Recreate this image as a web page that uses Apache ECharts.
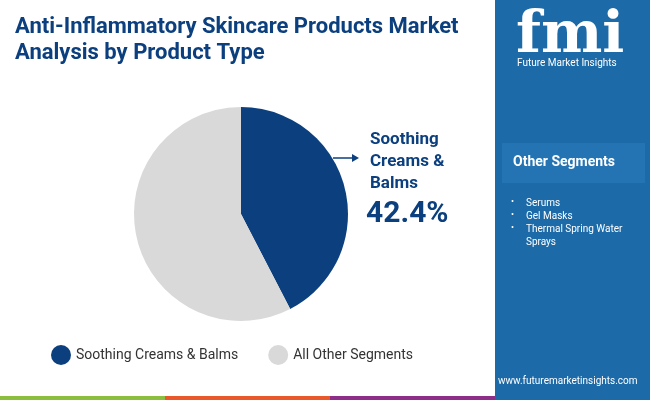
<!DOCTYPE html>
<html>
<head>
<meta charset="utf-8">
<script src="https://cdn.jsdelivr.net/npm/echarts@6/dist/echarts.min.js"></script>
<style>
  html, body { margin: 0; padding: 0; background: #fff; }
  #chart { width: 650px; height: 400px; }
</style>
</head>
<body>
<div id="chart"></div>
<script>
// data
var segments = ['Soothing Creams & Balms', 'All Other Segments'];
var shares = [42.4, 57.6];
var colors = ['#0b3f7e', '#d9d9d9'];
var otherSegments = ['Serums', 'Gel Masks', 'Thermal Spring Water', 'Sprays'];

(function () {
    let myechart = echarts.init(document.getElementById('chart'));
    var font = 'Roboto, "Open Sans", sans-serif';
    var bullets = [];
    var y0 = 198;
    otherSegments.forEach(function (s, i) {
        if (i !== 3) {
            bullets.push({ type: 'text', left: 511, top: y0 + i * 13 - 1,
                style: { text: '•', fill: '#fff', font: '9px ' + font } });
        }
        bullets.push({ type: 'text', left: 526, top: y0 + i * 13,
            style: { text: s, fill: '#fff', font: '10px ' + font } });
    });
    var option = {
        animation: false,
        color: colors,
        graphic: [
            { type: 'rect', shape: { x: 495, y: 0, width: 155, height: 400 }, style: { fill: '#1c6aa8' } },
            { type: 'rect', shape: { x: 502, y: 143, width: 143, height: 40 }, style: { fill: '#2474b3' } },
            { type: 'text', left: 513, top: 155, style: { text: 'Other Segments', fill: '#fff', font: 'bold 14px ' + font } },
            { type: 'text', left: 516, top: 8, style: { text: 'fmi', fill: '#fff', font: 'bold 58px "DejaVu Serif", serif' } },
            { type: 'text', left: 517, top: 58, style: { text: 'Future Market Insights', fill: '#fff', font: '10px ' + font } },
            { type: 'text', left: 498, top: 376, style: { text: 'www.futuremarketinsights.com', fill: '#fff', font: '10px ' + font } },
            { type: 'rect', shape: { x: 0, y: 396, width: 165, height: 4 }, style: { fill: '#8bbd3f' } },
            { type: 'rect', shape: { x: 165, y: 396, width: 165, height: 4 }, style: { fill: '#e8582a' } },
            { type: 'rect', shape: { x: 330, y: 396, width: 165, height: 4 }, style: { fill: '#8e2e88' } },
            { type: 'text', left: 15, top: 14, style: {
                text: 'Anti-Inflammatory Skincare Products Market\nAnalysis by Product Type',
                fill: '#0b3f7e', font: 'bold 22px ' + font, lineHeight: 26 } },
            { type: 'text', left: 370, top: 129, style: {
                text: 'Soothing\nCreams &\nBalms', fill: '#0b3f7e', font: 'bold 17px ' + font, lineHeight: 22 } },
            { type: 'text', left: 366, top: 199, style: { text: shares[0] + '%', fill: '#0b3f7e', font: 'bold 30px ' + font } },
            { type: 'line', shape: { x1: 333, y1: 158, x2: 354, y2: 158 }, style: { stroke: '#0b3f7e', lineWidth: 1.5 } },
            { type: 'polygon', shape: { points: [[352, 154], [359, 158], [352, 162]] }, style: { fill: '#0b3f7e' } }
        ].concat(bullets),
        legend: {
            bottom: 30,
            left: 46,
            icon: 'circle',
            itemWidth: 20,
            itemHeight: 20,
            itemGap: 30,
            textStyle: { color: '#333', fontSize: 14, fontFamily: font },
            data: segments
        },
        series: [{
            type: 'pie',
            center: [241, 214],
            radius: [0, 107],
            startAngle: 90,
            label: { show: false },
            labelLine: { show: false },
            data: segments.map(function (n, i) { return { name: n, value: shares[i] }; })
        }]
    };
    myechart.setOption(option);
})();
</script>
</body>
</html>
